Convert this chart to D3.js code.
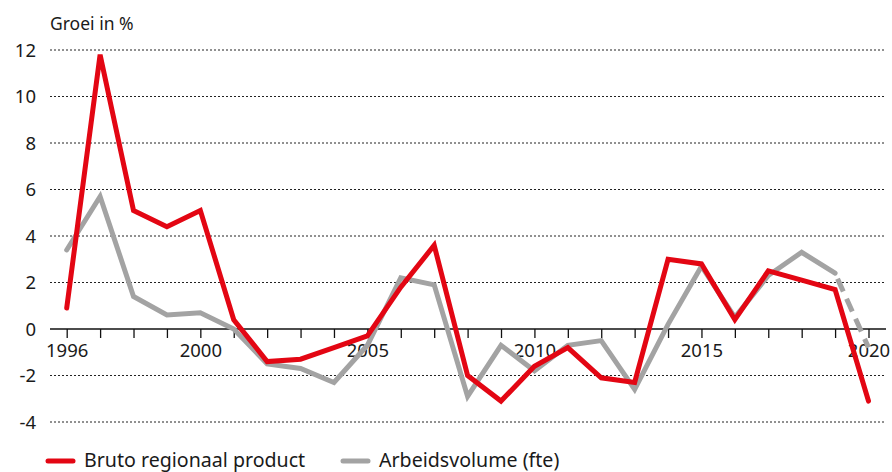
<!DOCTYPE html>
<html>
<head>
<meta charset="utf-8">
<script src="https://cdn.jsdelivr.net/npm/d3@7"></script>
<style>
  body { margin: 0; background: #fff; }
  svg text { font-family: "Noto Sans", "Open Sans", sans-serif; fill: #1a1a1a; }
</style>
</head>
<body>
<div id="chart"></div>
<script>
// years and series
var years = d3.range(1996, 2021);
var brp = [0.9, 11.8, 5.1, 4.4, 5.1, 0.4, -1.4, -1.3, -0.8, -0.3, 1.8, 3.6, -2.0, -3.1, -1.6, -0.8, -2.1, -2.3, 3.0, 2.8, 0.4, 2.5, 2.1, 1.7, -3.1];
var arbeid = [3.4, 5.7, 1.4, 0.6, 0.7, 0.0, -1.5, -1.7, -2.3, -0.7, 2.2, 1.9, -2.9, -0.7, -1.8, -0.7, -0.5, -2.6, 0.2, 2.7, 0.5, 2.3, 3.3, 2.4, -0.8];
var yTicks = [-4, -2, 0, 2, 4, 6, 8, 10, 12];
var xLabels = [1996, 2000, 2005, 2010, 2015, 2020];
var seriesNames = ["Bruto regionaal product", "Arbeidsvolume (fte)"];

var W = 892, H = 472;
var red = "#e30613", grey = "#a3a3a3";

var svg = d3.select("#chart").append("svg")
  .attr("width", W)
  .attr("height", H);

var x = d3.scaleLinear().domain([1996, 2020]).range([66.7, 868.5]);
var y = d3.scaleLinear().domain([-4, 12]).range([422, 50]);

// gridlines (dotted)
svg.append("g")
  .selectAll("line")
  .data(yTicks.filter(d => d !== 0))
  .enter()
  .append("line")
  .attr("x1", 50)
  .attr("x2", 886)
  .attr("y1", d => y(d))
  .attr("y2", d => y(d))
  .attr("stroke", "#222")
  .attr("stroke-width", 1)
  .attr("stroke-dasharray", "2,2");

// y labels
svg.append("g")
  .selectAll("text")
  .data(yTicks)
  .enter()
  .append("text")
  .attr("x", 36)
  .attr("y", d => y(d))
  .attr("dy", "0.36em")
  .attr("text-anchor", "end")
  .style("font-size", "18.5px")
  .text(d => d);

svg.append("text")
  .attr("x", 50)
  .attr("y", 30)
  .style("font-size", "17.5px")
  .text("Groei in %");

// x axis at zero
var xAxis = svg.append("g")
  .attr("transform", "translate(0," + y(0) + ")")
  .call(d3.axisBottom(x)
    .tickValues(years)
    .tickSize(9)
    .tickPadding(6)
    .tickFormat(d => xLabels.indexOf(d) >= 0 ? d : ""));
xAxis.select(".domain").remove();
xAxis.selectAll(".tick line").attr("stroke", "#111").attr("stroke-width", 1.3);
xAxis.selectAll("text")
  .style("font-family", "'Noto Sans', 'Open Sans', sans-serif")
  .style("font-size", "18.5px")
  .attr("fill", "#1a1a1a");
svg.append("line")
  .attr("x1", 50).attr("x2", 886)
  .attr("y1", y(0)).attr("y2", y(0))
  .attr("stroke", "#111").attr("stroke-width", 1.5);

var line = d3.line()
  .x((d, i) => x(years[i]))
  .y(d => y(d));

// grey series, solid part then dashed last segment
svg.append("path")
  .datum(arbeid.slice(0, 24))
  .attr("d", line)
  .attr("fill", "none")
  .attr("stroke", grey)
  .attr("stroke-width", 5)
  .attr("stroke-linejoin", "miter")
  .attr("stroke-linecap", "round");

var lastLine = d3.line()
  .x((d, i) => x(years[23 + i]))
  .y(d => y(d));
svg.append("path")
  .datum(arbeid.slice(23))
  .attr("d", lastLine)
  .attr("fill", "none")
  .attr("stroke", grey)
  .attr("stroke-width", 5)
  .attr("stroke-dasharray", "14,8")
  .attr("stroke-dashoffset", -6);

svg.append("path")
  .datum(brp)
  .attr("d", line)
  .attr("fill", "none")
  .attr("stroke", red)
  .attr("stroke-width", 5)
  .attr("stroke-linejoin", "miter")
  .attr("stroke-linecap", "round");

// legend
var legend = svg.append("g");
var legX = [48, 343];
legend.selectAll("line")
  .data(seriesNames)
  .enter()
  .append("line")
  .attr("x1", (d, i) => legX[i])
  .attr("x2", (d, i) => legX[i] + 25)
  .attr("y1", 461)
  .attr("y2", 461)
  .attr("stroke", (d, i) => i === 0 ? red : grey)
  .attr("stroke-width", 5)
  .attr("stroke-linecap", "round");
legend.selectAll("text")
  .data(seriesNames)
  .enter()
  .append("text")
  .attr("x", (d, i) => legX[i] + 36)
  .attr("y", 466.5)
  .style("font-size", "19.6px")
  .text(d => d);
</script>
</body>
</html>
